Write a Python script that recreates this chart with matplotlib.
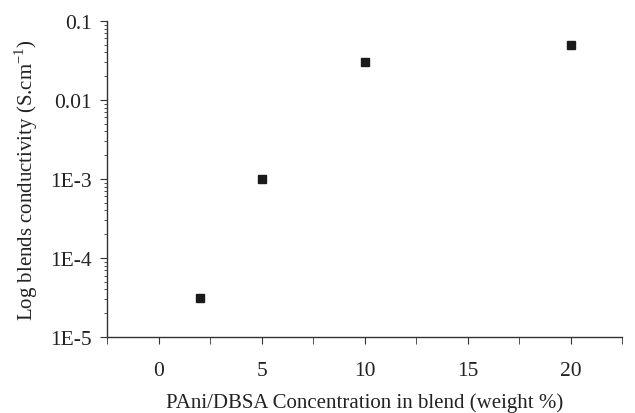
import matplotlib
matplotlib.use("Agg")
import matplotlib.pyplot as plt
from matplotlib.ticker import MultipleLocator, LogLocator, NullFormatter

plt.rcParams["font.family"] = "Liberation Serif"
plt.rcParams["mathtext.fontset"] = "custom"
plt.rcParams["mathtext.rm"] = "Liberation Serif"

# data
concentration = [2, 5, 10, 20]
conductivity = [3.1e-5, 1.0e-3, 3.0e-2, 5.0e-2]

y_ticks = [1e-5, 1e-4, 1e-3, 1e-2, 1e-1]
y_labels = ["1E-5", "1E-4", "1E-3", "0.01", "0.1"]
x_ticks = [0, 5, 10, 15, 20]

fig = plt.figure(figsize=(6.35, 4.14), dpi=100)
ax = fig.add_axes([0.1685, 0.1836, 0.8115, 0.7634])

ax.plot(concentration, conductivity, linestyle="none", marker="s",
        markersize=6.3, color="#1a1a1a")

ax.set_yscale("log")
ax.set_ylim(1e-5, 1e-1)
ax.set_xlim(-2.5, 22.5)

ax.set_yticks(y_ticks)
ax.set_yticklabels(y_labels)
ax.yaxis.set_minor_locator(LogLocator(base=10, subs=range(2, 10)))
ax.yaxis.set_minor_formatter(NullFormatter())
ax.set_xticks(x_ticks)
ax.xaxis.set_minor_locator(MultipleLocator(2.5))

ax.spines["top"].set_visible(False)
ax.spines["right"].set_visible(False)
for s in ["left", "bottom"]:
    ax.spines[s].set_color("#333333")
    ax.spines[s].set_linewidth(1.0)

ax.tick_params(axis="both", which="major", direction="out", length=5,
               color="#333333", labelsize=15.5, labelcolor="#222222")
ax.tick_params(axis="y", which="major", pad=6)
ax.tick_params(axis="x", which="major", pad=12)
ax.tick_params(axis="x", which="minor", direction="out", length=5, color="#333333")
ax.tick_params(axis="y", which="minor", direction="out", length=2.5, color="#333333")

ax.set_xlabel("PAni/DBSA Concentration in blend (weight %)", fontsize=15,
              labelpad=9, color="#222222")
ax.set_ylabel(r"Log blends conductivity (S.cm$^{\mathregular{-1}}$)", fontsize=15,
              labelpad=7, color="#222222")

plt.savefig("out.png", dpi=100)
plt.close()
